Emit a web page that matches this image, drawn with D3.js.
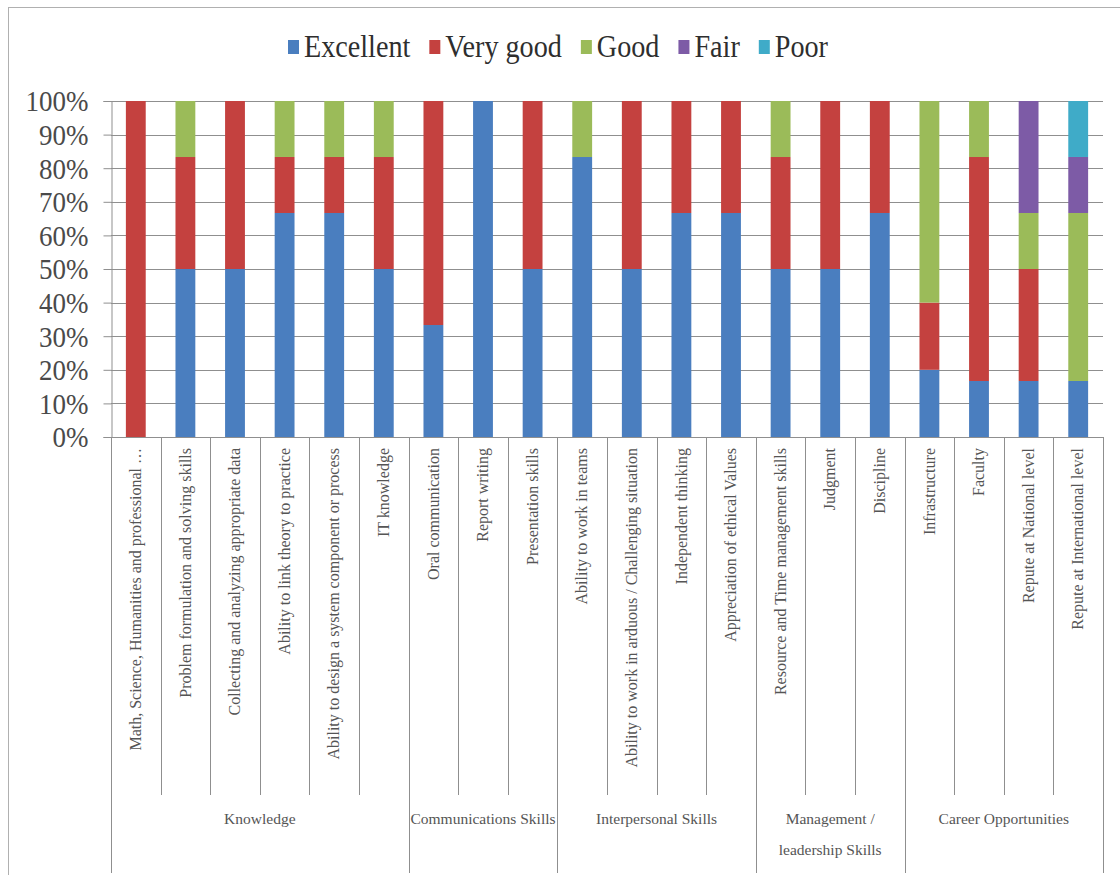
<!DOCTYPE html>
<html>
<head>
<meta charset="utf-8">
<script src="https://cdn.jsdelivr.net/npm/d3@7"></script>
<style>
  body { margin: 0; background: #fff; }
  svg { display: block; }
</style>
</head>
<body>
<svg id="chart" width="1120" height="875"></svg>
<script>
// ---- Data: share of responses (%) per skill, stacked by rating ----
const categories = [
  "Math, Science, Humanities and professional \u2026",
  "Problem formulation and solving skills",
  "Collecting and analyzing appropriate  data",
  "Ability to link theory to practice",
  "Ability to design a system component or process",
  "IT knowledge",
  "Oral communication",
  "Report writing",
  "Presentation skills",
  "Ability to work in teams",
  "Ability to work in arduous / Challenging situation",
  "Independent thinking",
  "Appreciation of ethical Values",
  "Resource and Time management skills",
  "Judgment",
  "Discipline",
  "Infrastructure",
  "Faculty",
  "Repute at National level",
  "Repute at International level"
];

const groupNames = [
  ["Knowledge"],
  ["Communications Skills"],
  ["Interpersonal Skills"],
  ["Management /", "leadership Skills"],
  ["Career Opportunities"]
];
const groupSizes = [6, 3, 4, 3, 4];

const seriesNames = ["Excellent", "Very good", "Good", "Fair", "Poor"];
const seriesColors = ["#4a7ebf", "#c4413f", "#9bbb59", "#7d5ba6", "#3fabc8"];

const excellent = [0, 50, 50, 66.67, 66.67, 50, 33.33, 100, 50, 83.33, 50, 66.67, 66.67, 50, 50, 66.67, 20, 16.67, 16.67, 16.67];
const veryGood  = [100, 33.33, 50, 16.67, 16.67, 33.33, 66.67, 0, 50, 0, 50, 33.33, 33.33, 33.33, 50, 33.33, 20, 66.66, 33.33, 0];
const good      = [0, 16.67, 0, 16.66, 16.66, 16.67, 0, 0, 0, 16.67, 0, 0, 0, 16.67, 0, 0, 60, 16.67, 16.67, 50];
const fair      = [0, 0, 0, 0, 0, 0, 0, 0, 0, 0, 0, 0, 0, 0, 0, 0, 0, 0, 33.33, 16.67];
const poor      = [0, 0, 0, 0, 0, 0, 0, 0, 0, 0, 0, 0, 0, 0, 0, 0, 0, 0, 0, 16.66];

const yTicks = [0, 10, 20, 30, 40, 50, 60, 70, 80, 90, 100];

// ---- Layout ----
const svg = d3.select("#chart");
const W = 1120, H = 875;
const plot = { left: 111, right: 1103, top: 101, bottom: 437 };
const serif = "'Liberation Serif', 'Times New Roman', serif";
const lineColor = "#8f8f8f";

// outer frame
svg.append("rect")
  .attr("x", 8.5).attr("y", 7.5)
  .attr("width", W).attr("height", H)
  .attr("fill", "none").attr("stroke", "#b0b0b0");

const x = d3.scaleBand().domain(categories).range([plot.left, plot.right]).padding(0);
const y = d3.scaleLinear().domain([0, 100]).range([plot.bottom, plot.top]).clamp(true);
const barW = x.bandwidth() * 0.4;

// gridlines
svg.append("g")
  .selectAll("line")
  .data(yTicks)
  .join("line")
  .attr("x1", plot.left).attr("x2", plot.right)
  .attr("y1", d => Math.round(y(d)) + 0.5).attr("y2", d => Math.round(y(d)) + 0.5)
  .attr("stroke", lineColor).attr("stroke-width", 1);

// stacked bars
const rows = categories.map((c, i) => ({
  cat: c,
  "Excellent": excellent[i],
  "Very good": veryGood[i],
  "Good": good[i],
  "Fair": fair[i],
  "Poor": poor[i]
}));
const stacked = d3.stack().keys(seriesNames)(rows);

svg.append("g")
  .selectAll("g")
  .data(stacked)
  .join("g")
  .attr("fill", (d, i) => seriesColors[i])
  .selectAll("rect")
  .data(d => d.filter(s => s[1] - s[0] > 0))
  .join("rect")
  .attr("x", d => x(d.data.cat) + (x.bandwidth() - barW) / 2)
  .attr("width", barW)
  .attr("y", d => y(d[1]))
  .attr("height", d => y(d[0]) - y(d[1]));

// y axis
const yAxis = d3.axisLeft(y)
  .tickValues(yTicks)
  .tickFormat(d => d + "%")
  .tickSize(8)
  .tickPadding(0);
const ySx = 0.93;
const yg = svg.append("g")
  .attr("transform", `translate(${plot.left + 0.5},0)`)
  .call(yAxis);
yg.select(".domain").attr("stroke", lineColor);
yg.selectAll(".tick line").attr("stroke", lineColor);
yg.selectAll(".tick text")
  .attr("font-family", serif)
  .attr("font-size", 29)
  .attr("fill", "#4a4a4a")
  .attr("x", -23 / ySx)
  .attr("dy", "0.34em")
  .attr("transform", `scale(${ySx},1)`);

// category axis: separators and rotated labels
const sepBottom = 795, groupBottom = 873;
const catBounds = categories.map(c => x(c)).concat([plot.right]);

// group boundary indexes
const groupStarts = [];
let acc = 0;
groupSizes.forEach(s => { groupStarts.push(acc); acc += s; });
const groupEdges = new Set(groupStarts.concat([categories.length]));

svg.append("g")
  .selectAll("line")
  .data(catBounds.map((bx, i) => ({ bx, i })))
  .join("line")
  .attr("x1", d => Math.round(d.bx) + 0.5).attr("x2", d => Math.round(d.bx) + 0.5)
  .attr("y1", plot.bottom)
  .attr("y2", d => groupEdges.has(d.i) ? groupBottom : sepBottom)
  .attr("stroke", lineColor);

svg.append("g")
  .selectAll("text")
  .data(categories)
  .join("text")
  .attr("transform", d => `translate(${x(d) + x.bandwidth() / 2},448) rotate(-90)`)
  .attr("text-anchor", "end")
  .attr("dy", "0.33em")
  .attr("font-family", serif)
  .attr("font-size", 16)
  .attr("fill", "#555")
  .text(d => d);

// group labels
const groupData = groupNames.map((lines, g) => {
  const s = groupStarts[g];
  const e = s + groupSizes[g];
  return { lines, cx: (catBounds[s] + catBounds[e]) / 2 };
});
const gl = svg.append("g")
  .selectAll("text")
  .data(groupData)
  .join("text")
  .attr("text-anchor", "middle")
  .attr("font-family", serif)
  .attr("font-size", 15.5)
  .attr("fill", "#555");
gl.selectAll("tspan")
  .data(d => d.lines.map(t => ({ t, cx: d.cx })))
  .join("tspan")
  .attr("x", d => d.cx)
  .attr("y", (d, i) => 824 + i * 31)
  .text(d => d.t);

// legend
const legend = svg.append("g");
const lg = legend.selectAll("g")
  .data(seriesNames)
  .join("g");
lg.append("rect")
  .attr("width", 11).attr("height", 14)
  .attr("y", 40)
  .attr("fill", (d, i) => seriesColors[i]);
lg.append("text")
  .attr("font-family", serif)
  .attr("font-size", 32)
  .attr("fill", "#2e2e2e")
  .attr("y", 57)
  .text(d => d);

// position items left-to-right, centred over the plot
const sx = 0.88, gapSwatch = 5, gapItem = 19;
let cursor = 0;
const items = [];
lg.each(function () {
  const t = d3.select(this).select("text");
  const w = t.node().getComputedTextLength() * sx;
  items.push({ node: this, start: cursor, w });
  cursor += 11 + gapSwatch + w + gapItem;
});
const totalW = cursor - gapItem;
const legendLeft = 558 - totalW / 2;
items.forEach(it => {
  const g = d3.select(it.node);
  const ox = legendLeft + it.start;
  g.select("rect").attr("x", ox);
  g.select("text").attr("transform", `translate(${ox + 11 + gapSwatch},0) scale(${sx},1)`);
});
</script>
</body>
</html>
